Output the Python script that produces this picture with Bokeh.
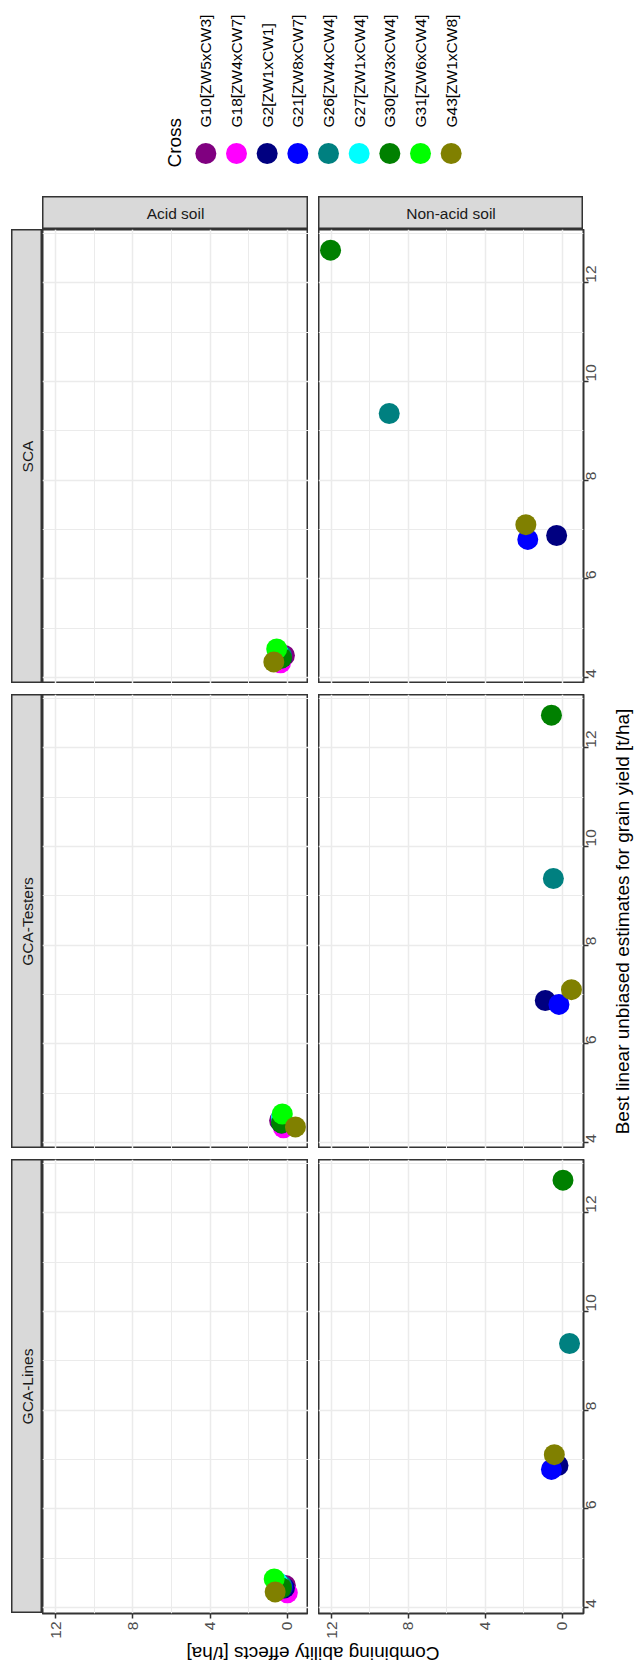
import math
from bokeh.plotting import figure
from bokeh.models import Range1d, FactorRange, FixedTicker, Spacer, ColumnDataSource
from bokeh.layouts import row, column
from bokeh.embed import file_html
from bokeh.resources import INLINE
from bokeh.core.properties import value

NaN = float("nan")

# ---------------- data ----------------
crosses = ["G10[ZW5xCW3]", "G18[ZW4xCW7]", "G2[ZW1xCW1]", "G21[ZW8xCW7]",
           "G26[ZW4xCW4]", "G27[ZW1xCW4]", "G30[ZW3xCW4]", "G31[ZW6xCW4]",
           "G43[ZW1xCW8]"]
colors = ["#800080", "#FF00FF", "#000080", "#0000FF", "#008080",
          "#00FFFF", "#008000", "#00FF00", "#808000"]

environments = ["Acid soil", "Non-acid soil"]
effect_types = ["SCA", "GCA-Testers", "GCA-Lines"]   # top to bottom (rotated view)

blue_acid    = [4.45, 4.30, 4.40, 4.42, 4.45, 4.52, 4.40, 4.58, 4.32]
blue_nonacid = [NaN, NaN, 6.88, 6.80, 9.35, NaN, 12.66, NaN, 7.10]

gca_lines_acid      = [0.10, 0.00, 0.15, 0.25, 0.30, 0.52, 0.30, 0.68, 0.63]
gca_lines_nonacid   = [NaN, NaN, 0.23, 0.57, -0.37, NaN, -0.03, NaN, 0.42]
gca_testers_acid    = [0.40, 0.20, 0.30, 0.30, 0.30, 0.30, 0.30, 0.26, -0.42]
gca_testers_nonacid = [NaN, NaN, 0.89, 0.18, 0.47, NaN, 0.57, NaN, -0.47]
sca_acid            = [0.15, 0.35, 0.30, 0.30, 0.30, 0.50, 0.30, 0.55, 0.70]
sca_nonacid         = [NaN, NaN, 0.30, 1.80, 9.00, NaN, 12.05, NaN, 1.90]

effect_ticks = [0, 4, 8, 12]
effect_minor = [2, 6, 10]
blue_ticks = [4, 6, 8, 10, 12]
blue_minor = [5, 7, 9, 11, 13]

x_title = "Combining ability effects [t/ha]"
y_title = "Best linear unbiased estimates for grain yield [t/ha]"
legend_title = "Cross"

effects = {
    ("SCA", "Acid soil"): sca_acid, ("SCA", "Non-acid soil"): sca_nonacid,
    ("GCA-Testers", "Acid soil"): gca_testers_acid, ("GCA-Testers", "Non-acid soil"): gca_testers_nonacid,
    ("GCA-Lines", "Acid soil"): gca_lines_acid, ("GCA-Lines", "Non-acid soil"): gca_lines_nonacid,
}
blues = {"Acid soil": blue_acid, "Non-acid soil": blue_nonacid}

# ---------------- style / layout ----------------
FONT = "Liberation Sans"
SMALL = "15.5px"
BIG = "19px"
GRID = "#EBEBEB"
DARK = "#333333"
STRIP_BG = "#D9D9D9"

FW = {"Acid soil": 266, "Non-acid soil": 265}
FH = 454
GAP_X, GAP_Y = 10, 11
STRIP_W, STRIP_H = 31, 33
LEFT_PAD = 11
RIGHT_AX = 27
BOTTOM_AX = 26
BOTTOM_T = 24
LEGEND_H = 196
KEY_Y = 153          # legend key centre, px from top
TOTAL_W = 634
PT_SIZE = 21


def finite(v):
    return not math.isnan(v)


all_eff = [v for lst in effects.values() for v in lst if finite(v)]
all_blue = [v for lst in blues.values() for v in lst if finite(v)]
emin, emax = min(all_eff), max(all_eff)
bmin, bmax = min(all_blue), max(all_blue)
epad = 0.05 * (emax - emin)
bpad = 0.05 * (bmax - bmin)
x_range = Range1d(emax + epad, emin - epad)   # reversed (rotated view)
y_range = Range1d(bmin - bpad, bmax + bpad)


def base_fig(**kw):
    p = figure(toolbar_location=None, output_backend="svg", **kw)
    p.title = None
    return p


def panel(effect, env):
    right = env == "Non-acid soil"
    bottom = effect == "GCA-Lines"
    p = base_fig(x_range=x_range, y_range=y_range,
                 frame_width=FW[env], frame_height=FH,
                 x_axis_location="below" if bottom else None,
                 y_axis_location="right" if right else None,
                 min_border_left=0, min_border_top=0,
                 min_border_right=RIGHT_AX if right else 0,
                 min_border_bottom=BOTTOM_AX if bottom else 0)
    p.xgrid.ticker = FixedTicker(ticks=effect_ticks, minor_ticks=effect_minor)
    p.ygrid.ticker = FixedTicker(ticks=blue_ticks, minor_ticks=blue_minor)
    for g in (p.xgrid[0], p.ygrid[0]):
        g.grid_line_color = GRID
        g.grid_line_width = 1.5
        g.minor_grid_line_color = GRID
        g.minor_grid_line_width = 1.0
    p.outline_line_color = DARK
    p.outline_line_width = 2
    p.background_fill_color = "white"

    axes = []
    if bottom:
        ax = p.xaxis[0]
        ax.ticker = FixedTicker(ticks=effect_ticks)
        axes.append(ax)
    if right:
        ax = p.yaxis[0]
        ax.ticker = FixedTicker(ticks=blue_ticks)
        axes.append(ax)
    for ax in axes:
        ax.major_label_orientation = math.pi / 2
        ax.major_label_text_font = FONT
        ax.major_label_text_font_size = SMALL
        ax.major_label_text_color = "#4D4D4D"
        ax.axis_line_color = None
        ax.major_tick_line_color = DARK
        ax.major_tick_line_width = 1.5
        ax.major_tick_out = 5
        ax.major_tick_in = 0
        ax.minor_tick_line_color = None
        ax.major_label_standoff = 3

    vals = effects[(effect, env)]
    bl = blues[env]
    keep = [i for i in range(len(crosses)) if finite(vals[i]) and finite(bl[i])]
    src = ColumnDataSource(dict(
        effect=[vals[i] for i in keep],
        blue=[bl[i] for i in keep],
        color=[colors[i] for i in keep],
        cross=[crosses[i] for i in keep],
    ))
    p.scatter(x="effect", y="blue", source=src, size=PT_SIZE,
              fill_color="color", line_color="color", line_width=0)
    return p


def strip(w, h, text, angle):
    s = base_fig(width=w, height=h, x_range=Range1d(0, 1), y_range=Range1d(0, 1),
                 x_axis_location=None, y_axis_location=None,
                 min_border_left=0, min_border_right=0,
                 min_border_top=0, min_border_bottom=0)
    s.grid.visible = False
    s.background_fill_color = STRIP_BG
    s.outline_line_color = DARK
    s.outline_line_width = 2
    s.text(x=[0.5], y=[0.5], text=[text], angle=angle,
           text_align="center", text_baseline="middle",
           text_font=value(FONT), text_font_size=SMALL, text_color="#1A1A1A")
    return s


def text_fig(w, h, text, angle, size, yr=None, y=0.5, align="center"):
    s = base_fig(width=w, height=h, x_range=Range1d(0, 1),
                 y_range=yr if yr is not None else Range1d(0, 1),
                 x_axis_location=None, y_axis_location=None,
                 min_border_left=0, min_border_right=0,
                 min_border_top=0, min_border_bottom=0)
    s.grid.visible = False
    s.outline_line_color = None
    s.text(x=[0.5], y=[y], text=[text], angle=angle,
           text_align=align, text_baseline="middle",
           text_font=value(FONT), text_font_size=size, text_color="black")
    return s


# ---------------- legend ----------------
KEY_W = 276
KEY_LEFT = 190
TITLE_W = 32
leg_y = Range1d(-(LEGEND_H - KEY_Y), KEY_Y)
key_fig = base_fig(width=KEY_W, height=LEGEND_H, x_range=FactorRange(factors=crosses),
                   y_range=leg_y, x_axis_location=None, y_axis_location=None,
                   min_border_left=0, min_border_right=0, min_border_top=0, min_border_bottom=0)
key_fig.grid.visible = False
key_fig.outline_line_color = None
ksrc = ColumnDataSource(dict(cross=crosses, color=colors))
key_fig.scatter(x="cross", y=0, source=ksrc, size=PT_SIZE,
                fill_color="color", line_color="color", line_width=0)
key_fig.text(x="cross", y=26, text="cross", source=ksrc, angle=math.pi / 2,
             text_align="left", text_baseline="middle",
             text_font=value(FONT), text_font_size=SMALL, text_color="black")

cross_title = text_fig(TITLE_W, LEGEND_H, legend_title, math.pi / 2, BIG,
                       yr=Range1d(-(LEGEND_H - KEY_Y), KEY_Y), y=-14, align="left")

legend_row = row(
    Spacer(width=KEY_LEFT - TITLE_W, height=LEGEND_H),
    cross_title, key_fig,
    Spacer(width=TOTAL_W - KEY_LEFT - KEY_W, height=LEGEND_H),
)

# ---------------- strips on top ----------------
left_w = LEFT_PAD + STRIP_W
strip_row = row(
    Spacer(width=left_w, height=STRIP_H),
    strip(FW["Acid soil"], STRIP_H, environments[0], 0),
    Spacer(width=GAP_X, height=STRIP_H),
    strip(FW["Non-acid soil"], STRIP_H, environments[1], 0),
    Spacer(width=TOTAL_W - left_w - FW["Acid soil"] - GAP_X - FW["Non-acid soil"], height=STRIP_H),
)

# ---------------- panels ----------------
panel_rows = []
for k, eff in enumerate(effect_types):
    bottom = eff == "GCA-Lines"
    h = FH + (BOTTOM_AX if bottom else 0)
    ls = strip(STRIP_W, FH, eff, math.pi / 2)
    if bottom:
        ls = column(ls, Spacer(width=STRIP_W, height=BOTTOM_AX))
    r = row(
        Spacer(width=LEFT_PAD, height=h),
        ls,
        panel(eff, "Acid soil"),
        Spacer(width=GAP_X, height=h),
        panel(eff, "Non-acid soil"),
    )
    panel_rows.append(r)
    if k < len(effect_types) - 1:
        panel_rows.append(Spacer(width=10, height=GAP_Y))

panels_col = column(*panel_rows)
panels_w = LEFT_PAD + STRIP_W + FW["Acid soil"] + GAP_X + FW["Non-acid soil"] + RIGHT_AX
right_w = TOTAL_W - panels_w
panels_h = 3 * FH + 2 * GAP_Y
right_col = column(
    text_fig(right_w, panels_h, y_title, math.pi / 2, BIG),
    Spacer(width=right_w, height=BOTTOM_AX),
)
mid = row(panels_col, right_col)

bottom_row = row(
    Spacer(width=left_w, height=BOTTOM_T),
    text_fig(FW["Acid soil"] + GAP_X + FW["Non-acid soil"], BOTTOM_T, x_title, math.pi, BIG),
    Spacer(width=TOTAL_W - left_w - FW["Acid soil"] - GAP_X - FW["Non-acid soil"], height=BOTTOM_T),
)

page = column(legend_row, strip_row, mid, bottom_row)

open("out.html", "w").write(file_html(page, INLINE))
